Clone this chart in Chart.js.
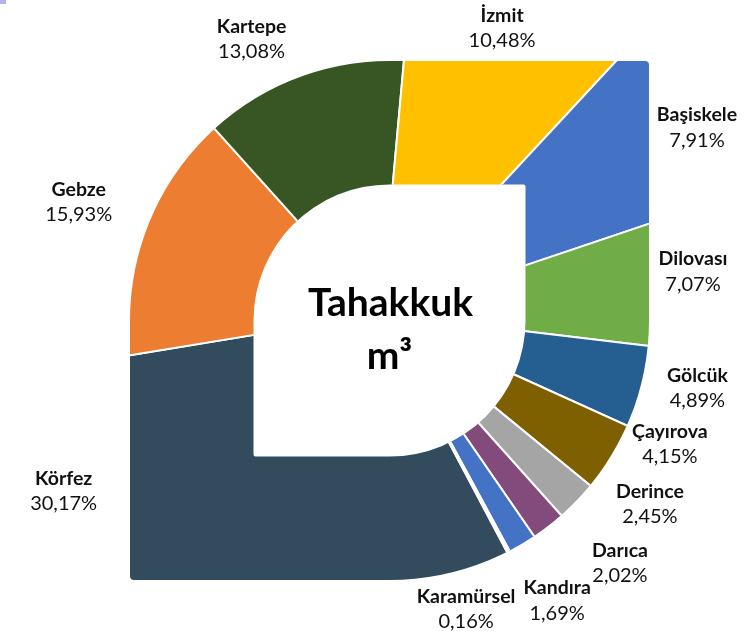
<!DOCTYPE html>
<html>
<head>
<meta charset="utf-8">
<script src="https://cdn.jsdelivr.net/npm/chart.js@4.4.0/dist/chart.umd.min.js"></script>
<style>
    html, body { margin: 0; padding: 0; background: #ffffff; }
    #wrap { position: relative; width: 747px; height: 636px; }
</style>
</head>
<body>
<div id="wrap"><canvas id="tahakkuk-chart" width="747" height="636"></canvas></div>
<script>
// Data
const districts = ["Körfez", "Gebze", "Kartepe", "İzmit", "Başiskele", "Dilovası", "Gölcük", "Çayırova", "Derince", "Darıca", "Kandıra", "Karamürsel"];
const shares = [30.17, 15.93, 13.08, 10.48, 7.91, 7.07, 4.89, 4.15, 2.45, 2.02, 1.69, 0.16];
const sliceColors = ["#324c5e", "#ed7d31", "#375623", "#ffc000", "#4472c4", "#70ad47", "#255e91", "#7f6000", "#a5a5a5", "#834b7c", "#4472c4", "#ffffff"];
const centerTitle = ["Tahakkuk", "m³"];

// label offsets from the point where the slice middle meets the outer edge
const labelNudge = [[-197, -89], [-66, -32], [-56, -35], [-3, -33], [48, -25], [44, -22], [58, -2], [60, -13], [73, 4], [70, 39], [32, 59], [-46, 60]];

// shape of the ring: square in top-right / bottom-left, round elsewhere
// (the ring outline sits a little right/below the pie centre)
const outerHalf = 259.5;
const innerHalf = 136;
const shapeShift = [8.4, 6.4];
const textColor = "#111111";

const formatShare = (value) => `${value.toFixed(2).replace(".", ",")}%`;

const leafPath = (ctx, cx, cy, h, corner) => {
    ctx.moveTo(cx, cy - h);
    ctx.lineTo(cx + h - corner, cy - h);
    ctx.arcTo(cx + h, cy - h, cx + h, cy - h + corner, corner);
    ctx.lineTo(cx + h, cy);
    ctx.arc(cx, cy, h, 0, Math.PI / 2);
    ctx.lineTo(cx - h + corner, cy + h);
    ctx.arcTo(cx - h, cy + h, cx - h, cy + h - corner, corner);
    ctx.lineTo(cx - h, cy);
    ctx.arc(cx, cy, h, Math.PI, Math.PI * 1.5);
    ctx.closePath();
};

const shapeCentre = (chart) => {
    const { x, y } = chart.getDatasetMeta(0).data[0];
    return { sx: x + shapeShift[0], sy: y + shapeShift[1] };
};

const leafShape = {
    id: "leafShape",
    beforeDatasetsDraw(chart) {
        const { sx, sy } = shapeCentre(chart);
        const ctx = chart.ctx;
        ctx.save();
        ctx.beginPath();
        leafPath(ctx, sx, sy, outerHalf, 4);
        leafPath(ctx, sx, sy, innerHalf, 2);
        ctx.clip("evenodd");
    },
    afterDatasetsDraw(chart) {
        chart.ctx.restore();
    },
};

const sliceLabels = {
    id: "sliceLabels",
    afterDraw(chart) {
        const ctx = chart.ctx;
        const arcs = chart.getDatasetMeta(0).data;
        const { sx, sy } = shapeCentre(chart);
        ctx.save();
        ctx.fillStyle = textColor;
        ctx.textAlign = "center";
        ctx.textBaseline = "middle";
        arcs.forEach((arc, i) => {
            const mid = (arc.startAngle + arc.endAngle) / 2;
            const dx = Math.cos(mid);
            const dy = Math.sin(mid);
            const r = dx * dy < 0 ? outerHalf / Math.max(Math.abs(dx), Math.abs(dy)) : outerHalf;
            const lx = sx + dx * r + labelNudge[i][0];
            const ly = sy + dy * r + labelNudge[i][1];
            ctx.font = "bold 19.5px Lato";
            ctx.fillText(districts[i], lx, ly - 12.5);
            ctx.font = "20px Lato";
            ctx.fillText(formatShare(shares[i]), lx, ly + 12.5);
        });

        // title in the hole
        ctx.textBaseline = "alphabetic";
        ctx.font = "bold 39px Lato";
        ctx.fillStyle = "#000000";
        ctx.fillText(centerTitle[0], sx + 1, sy - 5);
        ctx.fillText(centerTitle[1], sx, sy + 48);

        // small purple scrap left in the top corner of the picture
        ctx.fillStyle = "#b4b4ec";
        ctx.fillRect(0, 0, 6, 4);
        ctx.restore();
    },
};

const ctx = document.getElementById("tahakkuk-chart");
new Chart(ctx, {
    type: "doughnut",
    data: {
        labels: districts,
        datasets: [
            {
                data: shares,
                backgroundColor: sliceColors,
                borderColor: "#ffffff",
                borderWidth: 2,
                clip: false,
            },
        ],
    },
    options: {
        responsive: false,
        animation: false,
        rotation: 152.1,
        radius: 372,
        cutout: "30%",
        layout: {
            padding: { left: 15.2, right: 0, top: 0, bottom: 7.8 },
        },
        plugins: {
            legend: { display: false },
            tooltip: { enabled: false },
        },
    },
    plugins: [leafShape, sliceLabels],
});
</script>
</body>
</html>
